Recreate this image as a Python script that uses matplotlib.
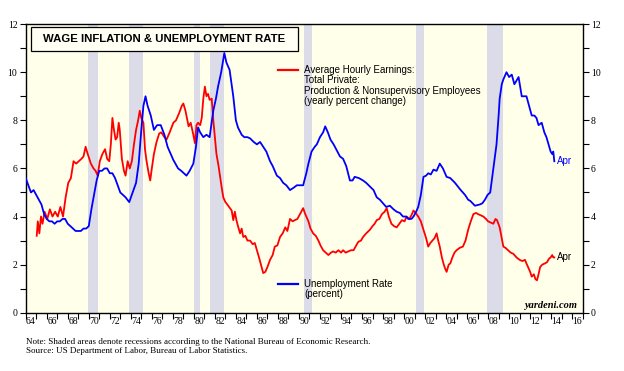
import numpy as np
import matplotlib
matplotlib.use("Agg")
import matplotlib.pyplot as plt
from matplotlib.lines import Line2D
from matplotlib.patches import Rectangle

SANS = "Liberation Sans"
SERIF = "Liberation Serif"

# Unemployment rate (percent)
unemp_years = [
    1964.0, 1964.25, 1964.5, 1964.75, 1965.0, 1965.25, 1965.5, 1965.75,
    1966.0, 1966.25, 1966.5, 1966.75, 1967.0, 1967.25, 1967.5, 1967.75,
    1968.0, 1968.25, 1968.5, 1968.75, 1969.0, 1969.25, 1969.5, 1969.75,
    1970.0, 1970.25, 1970.5, 1970.75, 1971.0, 1971.25, 1971.5, 1971.75,
    1972.0, 1972.25, 1972.5, 1972.75, 1973.0, 1973.25, 1973.5, 1973.85,
    1974.25, 1974.5, 1974.75, 1975.0, 1975.2, 1975.4, 1975.6, 1975.9,
    1976.2, 1976.5, 1976.85, 1977.2, 1977.5, 1977.8, 1978.05, 1978.5,
    1978.8, 1979.3, 1979.6, 1979.95, 1980.2, 1980.4, 1980.6, 1980.9,
    1981.2, 1981.5, 1981.85, 1982.1, 1982.3, 1982.6, 1982.9, 1983.1,
    1983.4, 1983.75, 1984.0, 1984.2, 1984.55, 1984.8, 1985.1, 1985.35,
    1985.7, 1986.0, 1986.3, 1986.6, 1986.9, 1987.25, 1987.5, 1987.9,
    1988.2, 1988.5, 1988.8, 1989.15, 1989.5, 1989.8, 1990.1, 1990.4,
    1990.7, 1990.9, 1991.2, 1991.5, 1991.7, 1992.0, 1992.3, 1992.5,
    1992.75, 1993.0, 1993.3, 1993.6, 1993.9, 1994.2, 1994.5, 1994.85,
    1995.1, 1995.3, 1995.7, 1996.1, 1996.4, 1996.75, 1997.1, 1997.4,
    1997.7, 1998.0, 1998.3, 1998.65, 1999.0, 1999.3, 1999.6, 1999.9,
    2000.2, 2000.4, 2000.7, 2000.9, 2001.15, 2001.35, 2001.6, 2001.85,
    2002.1, 2002.3, 2002.55, 2002.8, 2003.1, 2003.4, 2003.7, 2004.05,
    2004.4, 2004.85, 2005.3, 2005.8, 2006.1, 2006.3, 2006.75, 2007.2,
    2007.45, 2007.7, 2007.95, 2008.2, 2008.5, 2008.8, 2009.0, 2009.1,
    2009.3, 2009.45, 2009.75, 2010.0, 2010.25, 2010.5, 2010.9, 2011.2,
    2011.45, 2011.65, 2011.9, 2012.15, 2012.4, 2012.6, 2012.8, 2013.1,
    2013.35, 2013.55, 2013.75, 2013.95, 2014.1, 2014.2, 2014.3,
]
unemp_values = [
    5.6, 5.3, 5.0, 5.1, 4.9, 4.7, 4.5, 4.1,
    3.9, 3.8, 3.8, 3.7, 3.8, 3.8, 3.9, 3.9,
    3.7, 3.6, 3.5, 3.4, 3.4, 3.4, 3.5, 3.5,
    3.6, 4.3, 4.9, 5.5, 5.9, 5.9, 6.0, 6.0,
    5.8, 5.8, 5.6, 5.3, 5.0, 4.9, 4.8, 4.6,
    5.1, 5.4, 6.2, 7.6, 8.6, 9.0, 8.6, 8.2,
    7.6, 7.8, 7.8, 7.4, 6.9, 6.6, 6.35, 6.0,
    5.9, 5.7, 5.9, 6.2, 6.9, 7.7, 7.5, 7.3,
    7.4, 7.3, 8.4, 8.9, 9.4, 10.0, 10.8, 10.4,
    10.1, 9.0, 8.0, 7.7, 7.4, 7.3, 7.3, 7.25,
    7.1, 7.0, 7.1, 6.9, 6.7, 6.3, 6.1, 5.7,
    5.6, 5.4, 5.3, 5.1, 5.2, 5.3, 5.3, 5.3,
    5.8, 6.2, 6.7, 6.9, 7.0, 7.3, 7.5, 7.75,
    7.5, 7.2, 7.0, 6.75, 6.5, 6.4, 6.1, 5.5,
    5.5, 5.65, 5.6, 5.5, 5.4, 5.25, 5.1, 4.8,
    4.7, 4.55, 4.4, 4.45, 4.3, 4.2, 4.15, 4.0,
    4.0, 3.9, 3.9, 4.0, 4.2, 4.4, 4.9, 5.65,
    5.7, 5.8, 5.75, 5.95, 5.9, 6.2, 6.0, 5.65,
    5.6, 5.4, 5.15, 4.9, 4.7, 4.65, 4.45, 4.5,
    4.55, 4.7, 4.9, 5.0, 6.0, 7.0, 8.2, 8.9,
    9.5, 9.7, 10.0, 9.8, 9.9, 9.5, 9.8, 9.0,
    9.0, 9.0, 8.6, 8.2, 8.2, 8.1, 7.8, 7.9,
    7.5, 7.3, 7.0, 6.7, 6.6, 6.7, 6.3,
]

# Average hourly earnings, production & nonsupervisory, y/y % change
wage_years = [
    1965.05, 1965.15, 1965.3, 1965.45, 1965.6, 1965.8, 1966.05, 1966.3,
    1966.55, 1966.8, 1967.05, 1967.3, 1967.55, 1967.8, 1968.05, 1968.3,
    1968.55, 1968.8, 1969.05, 1969.3, 1969.5, 1969.7, 1969.9, 1970.2,
    1970.45, 1970.65, 1970.85, 1971.05, 1971.3, 1971.55, 1971.75, 1971.95,
    1972.1, 1972.25, 1972.4, 1972.55, 1972.7, 1972.85, 1972.95, 1973.15,
    1973.35, 1973.5, 1973.7, 1973.9, 1974.1, 1974.3, 1974.5, 1974.7,
    1974.85, 1975.0, 1975.2, 1975.35, 1975.5, 1975.7, 1975.85, 1976.0,
    1976.2, 1976.45, 1976.7, 1976.9, 1977.2, 1977.4, 1977.7, 1978.05,
    1978.3, 1978.6, 1978.85, 1979.0, 1979.2, 1979.5, 1979.7, 1979.95,
    1980.1, 1980.25, 1980.4, 1980.6, 1980.75, 1980.9, 1981.05, 1981.2,
    1981.35, 1981.5, 1981.7, 1981.85, 1982.0, 1982.15, 1982.35, 1982.5,
    1982.65, 1982.8, 1983.0, 1983.1, 1983.35, 1983.6, 1983.75, 1983.9,
    1984.05, 1984.2, 1984.4, 1984.55, 1984.7, 1984.9, 1985.1, 1985.35,
    1985.6, 1985.8, 1986.0, 1986.2, 1986.45, 1986.6, 1986.8, 1987.0,
    1987.25, 1987.5, 1987.7, 1987.95, 1988.2, 1988.45, 1988.7, 1988.9,
    1989.15, 1989.4, 1989.6, 1989.85, 1990.1, 1990.4, 1990.6, 1990.9,
    1991.1, 1991.35, 1991.6, 1991.85, 1992.05, 1992.3, 1992.55, 1992.8,
    1993.05, 1993.25, 1993.5, 1993.75, 1994.0, 1994.2, 1994.45, 1994.7,
    1994.95, 1995.2, 1995.45, 1995.65, 1995.9, 1996.1, 1996.4, 1996.75,
    1997.0, 1997.2, 1997.4, 1997.65, 1997.9, 1998.15, 1998.35, 1998.55,
    1998.8, 1999.05, 1999.3, 1999.55, 1999.8, 2000.05, 2000.25, 2000.5,
    2000.7, 2000.9, 2001.1, 2001.35, 2001.6, 2001.85, 2002.1, 2002.3,
    2002.5, 2002.7, 2002.9, 2003.1, 2003.25, 2003.4, 2003.6, 2003.75,
    2003.9, 2004.05, 2004.25, 2004.4, 2004.6, 2004.8, 2005.0, 2005.3,
    2005.6, 2005.85, 2006.1, 2006.35, 2006.6, 2006.85, 2007.05, 2007.3,
    2007.55, 2007.8, 2008.0, 2008.25, 2008.5, 2008.7, 2008.85, 2009.1,
    2009.3, 2009.45, 2009.65, 2009.9, 2010.15, 2010.4, 2010.7, 2011.0,
    2011.25, 2011.5, 2011.7, 2011.85, 2012.0, 2012.15, 2012.35, 2012.5,
    2012.65, 2012.8, 2012.95, 2013.15, 2013.4, 2013.6, 2013.8, 2013.95,
    2014.1, 2014.2, 2014.3,
]
wage_values = [
    3.2, 3.8, 3.3, 4.0, 3.7, 4.2, 3.9, 4.3,
    4.0, 4.2, 4.0, 4.4, 4.0, 4.8, 5.4, 5.6,
    6.3, 6.2, 6.3, 6.4, 6.5, 6.9, 6.6, 6.2,
    6.0, 5.9, 5.7, 6.3, 6.6, 6.8, 6.4, 6.3,
    7.0, 8.1, 7.6, 7.2, 7.3, 7.9, 7.6, 6.4,
    5.9, 5.7, 6.3, 6.0, 6.3, 7.0, 7.6, 8.0,
    8.4, 8.1, 7.9, 6.8, 6.3, 5.8, 5.5, 6.0,
    6.6, 7.1, 7.45, 7.5, 7.3, 7.2, 7.5, 7.9,
    8.0, 8.3, 8.6, 8.7, 8.4, 7.75, 7.9, 7.4,
    7.05, 7.8, 7.9, 7.8, 8.1, 8.9, 9.4, 9.0,
    9.1, 8.85, 8.9, 8.0, 7.3, 6.6, 6.1, 5.65,
    5.2, 4.8, 4.6, 4.55, 4.4, 4.25, 3.85, 4.2,
    3.85, 3.6, 3.3, 3.5, 3.15, 3.2, 3.0, 3.0,
    2.85, 2.9, 2.6, 2.3, 1.9, 1.65, 1.7, 1.9,
    2.2, 2.4, 2.75, 2.8, 3.15, 3.3, 3.55, 3.4,
    3.9, 3.8, 3.85, 3.9, 4.1, 4.35, 4.1, 3.8,
    3.5, 3.3, 3.2, 3.0, 2.8, 2.6, 2.5, 2.4,
    2.5, 2.55, 2.5, 2.6, 2.5, 2.6, 2.5, 2.55,
    2.6, 2.6, 2.8, 2.95, 3.0, 3.15, 3.3, 3.45,
    3.6, 3.7, 3.85, 3.9, 4.1, 4.2, 4.35, 4.0,
    3.7, 3.6, 3.55, 3.7, 3.85, 3.8, 4.0, 3.9,
    4.05, 4.25, 4.15, 4.0, 3.8, 3.45, 3.1, 2.75,
    2.9, 3.0, 3.1, 3.3, 3.0, 2.75, 2.3, 2.05,
    1.85, 1.7, 2.0, 2.05, 2.3, 2.5, 2.6, 2.7,
    2.75, 3.0, 3.45, 3.8, 4.1, 4.15, 4.1, 4.05,
    4.0, 3.9, 3.8, 3.75, 3.7, 3.9, 3.85, 3.55,
    3.1, 2.75, 2.7, 2.6, 2.5, 2.45, 2.3, 2.2,
    2.15, 2.2, 2.0, 1.85, 1.7, 1.5, 1.6, 1.4,
    1.35, 1.6, 1.9, 2.0, 2.05, 2.1, 2.25, 2.3,
    2.4, 2.3, 2.3,
]

# NBER recessions (start, end)
recessions = [
    (1969.92, 1970.85), (1973.83, 1975.2), (1980.0, 1980.55),
    (1981.5, 1982.85), (1990.5, 1991.2), (2001.15, 2001.88),
    (2007.92, 2009.45),
]

title_text = "WAGE INFLATION & UNEMPLOYMENT RATE"
wage_label = ["Average Hourly Earnings:", "Total Private:",
              "Production & Nonsupervisory Employees",
              "(yearly percent change)"]
unemp_label = ["Unemployment Rate", "(percent)"]
year_labels = ["64", "66", "68", "70", "72", "74", "76", "78", "80", "82",
               "84", "86", "88", "90", "92", "94", "96", "98", "00", "02",
               "04", "06", "08", "10", "12", "14", "16"]
note_lines = [
    "Note: Shaded areas denote recessions according to the National Bureau of Economic Research.",
    "Source: US Department of Labor, Bureau of Labor Statistics.",
]

RED = "#ff0000"
BLUE = "#0000ff"

fig = plt.figure(figsize=(6.24, 3.71), dpi=100)
ax = fig.add_axes([0.0412, 0.157, 0.8926, 0.778])
ax.set_facecolor("#ffffea")

for a, b in recessions:
    ax.axvspan(a, b, color="#dcdce8", lw=0, zorder=1)

ax.plot(wage_years, wage_values, color=RED, lw=1.3, zorder=3)
ax.plot(unemp_years, unemp_values, color=BLUE, lw=1.3, zorder=4)

ax.annotate("Apr", (unemp_years[-1], unemp_values[-1]), xytext=(2, 0),
            textcoords="offset points", va="center", ha="left",
            color=BLUE, fontsize=7, family=SANS)
ax.annotate("Apr", (wage_years[-1], wage_values[-1]), xytext=(2, 0),
            textcoords="offset points", va="center", ha="left",
            color="black", fontsize=7, family=SANS)

ax.set_xlim(1964, 2017)
ax.set_ylim(0, 12)

# axes: ticks at each year, labels centred under even years
ax.set_xticks(np.arange(1964, 2018, 1))
ax.set_xticklabels([])
ax.set_xticks(np.arange(1964.5, 2017, 2), year_labels, minor=True)
ax.tick_params(axis="x", which="major", direction="out", length=4, width=0.8)
ax.tick_params(axis="x", which="minor", length=0, pad=3, labelsize=7)

ax.set_yticks(np.arange(0, 13, 2))
ax.set_yticks(np.arange(1, 12, 2), minor=True)
ax.tick_params(axis="y", which="both", direction="out", left=True, right=True,
               labelleft=True, labelright=True, width=0.8, labelsize=7, pad=2)
ax.tick_params(axis="y", which="major", length=4)
ax.tick_params(axis="y", which="minor", length=4)
for lab in ax.get_xticklabels(minor=True):
    lab.set_family(SERIF)
for lab in ax.yaxis.get_ticklabels(which="both"):
    lab.set_family(SERIF)
for sp in ax.spines.values():
    sp.set_linewidth(1.0)

# title box
ax.add_patch(Rectangle((0.0095, 0.9075), 0.4785, 0.081, transform=ax.transAxes,
                       facecolor="#fffff4", edgecolor="black", lw=0.9, zorder=5))
ax.text(0.249, 0.948, title_text, transform=ax.transAxes, ha="center",
        va="center", fontsize=8.2, fontweight="bold", family=SANS, zorder=6)

# legend-like labels
ax.add_line(Line2D([0.453, 0.489], [0.8407, 0.8407], transform=ax.transAxes,
                   color=RED, lw=1.6, zorder=6))
for i, s in enumerate(wage_label):
    ax.text(0.4996, 0.8407 - i * 0.0357, s, transform=ax.transAxes,
            ha="left", va="center", fontsize=7, family=SANS, zorder=6)

ax.add_line(Line2D([0.453, 0.489], [0.0994, 0.0994], transform=ax.transAxes,
                   color=BLUE, lw=1.6, zorder=6))
for i, s in enumerate(unemp_label):
    ax.text(0.4996, 0.0994 - i * 0.0357, s, transform=ax.transAxes,
            ha="left", va="center", fontsize=7, family=SANS, zorder=6)

ax.text(0.989, 0.025, "yardeni.com", transform=ax.transAxes, ha="right",
        va="center", fontsize=7.5, fontweight="bold", style="italic",
        family=SERIF, zorder=6)

fig.text(0.041, 0.079, note_lines[0], ha="left", va="center", fontsize=6.5,
         family=SERIF)
fig.text(0.041, 0.054, note_lines[1], ha="left", va="center", fontsize=6.5,
         family=SERIF)

fig.savefig("out.png", dpi=100, facecolor="white")
